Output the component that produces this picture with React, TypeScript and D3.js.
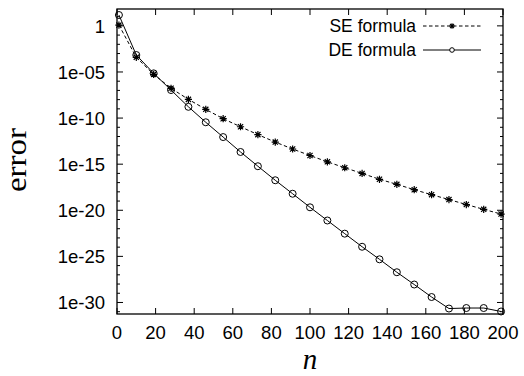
import React from "react";
import * as d3 from "d3";

const nValues = [1, 10, 19, 28, 37, 46, 55, 64, 73, 82, 91, 100, 109, 118, 127, 136, 145, 154, 163, 172, 181, 190, 199];
const seError = [1.23, 3.9e-4, 5.5e-6, 1.7e-7, 1.07e-8, 8.9e-10, 8.5e-11, 1.15e-11, 1.6e-12, 2.5e-13, 4.4e-14, 8.7e-15, 1.8e-15, 4.1e-16, 1.0e-16, 2.3e-17, 6.5e-18, 1.7e-18, 4.9e-19, 1.45e-19, 4.2e-20, 1.26e-20, 3.9e-21];
const deError = [15, 6.9e-4, 7.1e-6, 1.1e-7, 1.66e-9, 3.5e-11, 8.7e-13, 2.1e-14, 6.0e-16, 1.8e-17, 6.2e-19, 2.1e-20, 7.8e-22, 2.9e-23, 1.1e-24, 4.8e-26, 1.9e-27, 8.9e-29, 3.9e-30, 2.2e-31, 2.5e-31, 2.5e-31, 1.05e-31];
const xTicks = [0, 20, 40, 60, 80, 100, 120, 140, 160, 180, 200];
const yMajorExps = [0, -5, -10, -15, -20, -25, -30];
const yMajorLabels = ["1", "1e-05", "1e-10", "1e-15", "1e-20", "1e-25", "1e-30"];
const seriesNames = ["SE formula", "DE formula"];

const W = 524, H = 376;
const L = 117, R = 503, T = 9, B = 314;

export default function App() {
  const x = d3.scaleLinear().domain([0, 200]).range([L, R]);
  const y = d3.scaleLog().domain([Math.pow(10, -31.25), Math.pow(10, 1.83)]).range([B, T]);
  const line = d3.line<number>().x((_, i) => x(nValues[i])).y((v) => y(v));

  const minorExps: number[] = [];
  for (let e = 1; e >= -31; e--) if (!yMajorExps.includes(e)) minorExps.push(e);

  const star = (s: number) => {
    const d = s * 0.72;
    return `M${-s},0H${s}M0,${-s}V${s}M${-d},${-d}L${d},${d}M${-d},${d}L${d},${-d}`;
  };

  const font = "'Liberation Sans', Arial, Helvetica, sans-serif";
  const serif = "'Liberation Serif', 'Times New Roman', serif";

  return (
    <svg width={W} height={H} style={{ position: "absolute", left: 0, top: 0, background: "#fff" }}>
      {xTicks.map((t) => (
        <g key={"xt" + t}>
          <line x1={x(t)} x2={x(t)} y1={B} y2={B - 6} stroke="#000" strokeWidth={1} />
          <line x1={x(t)} x2={x(t)} y1={T} y2={T + 6} stroke="#000" strokeWidth={1} />
          <text x={x(t)} y={339} textAnchor="middle" fontFamily={font} fontSize={18.5} fill="#000">{t}</text>
        </g>
      ))}
      {yMajorExps.map((e, i) => (
        <g key={"ym" + e}>
          <line x1={L} x2={L + 6} y1={y(Math.pow(10, e))} y2={y(Math.pow(10, e))} stroke="#000" strokeWidth={1} />
          <line x1={R} x2={R - 6} y1={y(Math.pow(10, e))} y2={y(Math.pow(10, e))} stroke="#000" strokeWidth={1} />
          <text x={105} y={y(Math.pow(10, e))} dy="0.36em" textAnchor="end" fontFamily={font} fontSize={18.5} fill="#000">{yMajorLabels[i]}</text>
        </g>
      ))}
      {minorExps.map((e) => (
        <g key={"yn" + e}>
          <line x1={L} x2={L + 3} y1={y(Math.pow(10, e))} y2={y(Math.pow(10, e))} stroke="#000" strokeWidth={1} />
          <line x1={R} x2={R - 3} y1={y(Math.pow(10, e))} y2={y(Math.pow(10, e))} stroke="#000" strokeWidth={1} />
        </g>
      ))}

      <path d={line(seError) || ""} fill="none" stroke="#000" strokeWidth={1} strokeDasharray="3.5,2.5" />
      <path d={line(deError) || ""} fill="none" stroke="#000" strokeWidth={1} />
      {seError.map((v, i) => (
        <path key={"s" + i} d={star(3.6)} transform={`translate(${x(nValues[i])},${y(v)})`} stroke="#000" strokeWidth={1.2} fill="none" />
      ))}
      {deError.map((v, i) => (
        <circle key={"c" + i} cx={x(nValues[i])} cy={y(v)} r={3.5} stroke="#000" strokeWidth={1} fill="none" />
      ))}

      <rect x={L} y={T} width={R - L} height={B - T} fill="none" stroke="#000" strokeWidth={1.3} />

      <text x={416} y={26} dy="0.36em" textAnchor="end" fontFamily={font} fontSize={17.5} fill="#000">{seriesNames[0]}</text>
      <line x1={423} x2={481} y1={26} y2={26} stroke="#000" strokeWidth={1} strokeDasharray="3.5,2.5" />
      <path d={star(2.8)} transform="translate(452,26)" stroke="#000" strokeWidth={1.1} fill="none" />
      <text x={416} y={50} dy="0.36em" textAnchor="end" fontFamily={font} fontSize={17.5} fill="#000">{seriesNames[1]}</text>
      <line x1={423} x2={481} y1={50} y2={50} stroke="#000" strokeWidth={1} />
      <circle cx={452} cy={50} r={2.3} stroke="#000" strokeWidth={1} fill="#fff" />

      <text transform="translate(26,160) rotate(-90)" textAnchor="middle" fontFamily={serif} fontSize={29} textLength={64} lengthAdjust="spacingAndGlyphs" fill="#000">error</text>
      <text x={310} y={369} textAnchor="middle" fontFamily={serif} fontStyle="italic" fontSize={29} fill="#000">n</text>
    </svg>
  );
}
